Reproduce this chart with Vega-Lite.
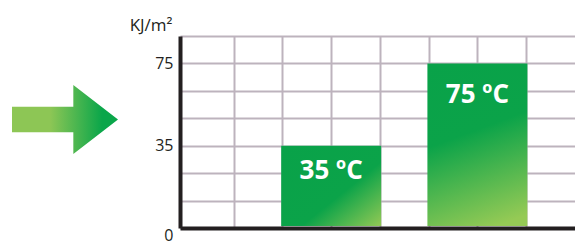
{
  "$schema": "https://vega.github.io/schema/vega-lite/v6.json",
  "padding": {"left": 0, "top": 16, "right": 0, "bottom": 0},
  "background": "white",
  "datasets": {
    "bars": [
      {"label": "35 ºC", "energy": 35, "column": 3},
      {"label": "75 ºC", "energy": 75, "column": 6}
    ],
    "arrow": [{"name": "arrow"}]
  },
  "config": {"view": {"stroke": null}},
  "spacing": 50,
  "bounds": "flush",
  "hconcat": [
    {
      "width": 130,
      "height": 167,
      "data": {"name": "arrow"},
      "mark": {
        "type": "point",
        "shape": "M-1,-0.24L0.157,-0.24L0.157,-0.65L1,0L0.157,0.65L0.157,0.24L-1,0.24Z",
        "size": 11236,
        "filled": true,
        "opacity": 1,
        "strokeWidth": 0,
        "fill": {
          "gradient": "linear", "x1": 0, "y1": 0, "x2": 1, "y2": 0,
          "stops": [
            {"offset": 0, "color": "#8dc655"},
            {"offset": 0.36, "color": "#8dc655"},
            {"offset": 0.85, "color": "#0aa64a"},
            {"offset": 1, "color": "#0aa64a"}
          ]
        }
      },
      "encoding": {}
    },
    {
      "width": 395,
      "height": 192,
      "data": {"name": "bars"},
      "encoding": {
        "x": {
          "field": "column", "type": "quantitative",
          "scale": {"domain": [0, 7.9], "nice": false, "zero": false},
          "axis": {
            "values": [1, 2, 3, 4, 5, 6, 7],
            "grid": true, "gridColor": "#bdb3bd", "gridWidth": 2,
            "labels": false, "ticks": false, "title": null,
            "domain": true, "domainColor": "#231f20", "domainWidth": 4
          }
        },
        "y": {
          "field": "energy", "type": "quantitative",
          "scale": {"domain": [0, 35, 75, 88.333], "range": [192, 109.714, 27.429, 0], "nice": false, "zero": false},
          "axis": {
            "values": [0, 11.667, 23.333, 35, 48.333, 61.667, 75, 88.333],
            "grid": true, "gridColor": "#bdb3bd", "gridWidth": 2,
            "ticks": false,
            "domain": true, "domainColor": "#231f20", "domainWidth": 4,
            "labelExpr": "(datum.value == 0 || datum.value == 35 || datum.value == 75) ? datum.label : ''",
            "labelOverlap": false,
            "labelFont": "Open Sans", "labelFontSize": 16, "labelColor": "#231f20",
            "labelPadding": 7,
            "labelOffset": {"condition": {"test": "datum.value == 0", "value": 7}, "value": 0},
            "title": "KJ/m²", "titleAngle": 0, "titleAlign": "right", "titleBaseline": "alphabetic",
            "titleX": -8, "titleY": -6,
            "titleFont": "Open Sans", "titleFontSize": 17, "titleFontWeight": "normal", "titleColor": "#231f20"
          }
        }
      },
      "layer": [
        {
          "transform": [{"filter": "datum.energy < 50"}],
          "mark": {
            "type": "bar", "width": 100, "y2Offset": -2,
            "fill": {
              "gradient": "linear", "x1": 0, "y1": 0, "x2": 1, "y2": 1,
              "stops": [
                {"offset": 0, "color": "#09a249"},
                {"offset": 0.6, "color": "#0ba349"},
                {"offset": 1, "color": "#93c955"}
              ]
            }
          },
          "encoding": {"y2": {"datum": 0}}
        },
        {
          "transform": [{"filter": "datum.energy >= 50"}],
          "mark": {
            "type": "bar", "width": 100, "y2Offset": -2,
            "fill": {
              "gradient": "linear", "x1": 0, "y1": 0, "x2": 0.25, "y2": 1.1,
              "stops": [
                {"offset": 0, "color": "#09a249"},
                {"offset": 0.45, "color": "#0ba349"},
                {"offset": 1, "color": "#95ca55"}
              ]
            }
          },
          "encoding": {"y2": {"datum": 0}}
        },
        {
          "mark": {
            "type": "text", "font": "Open Sans", "fontWeight": "bold", "fontSize": 26,
            "color": "white", "align": "center", "baseline": "alphabetic",
            "dy": {"expr": "datum.energy > 50 ? 40 : 33"}
          },
          "encoding": {"text": {"field": "label"}}
        }
      ]
    }
  ]
}
